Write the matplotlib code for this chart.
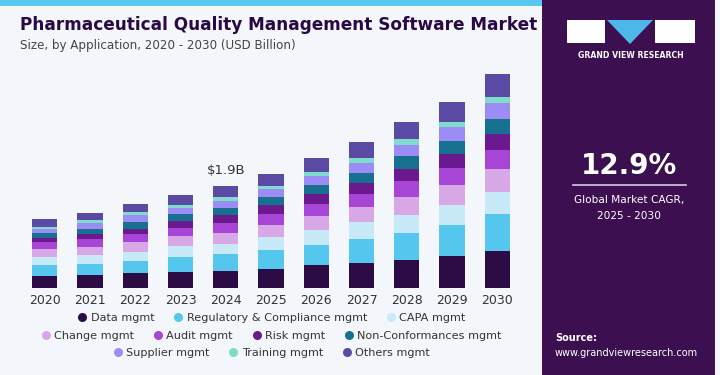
import matplotlib
matplotlib.use("Agg")
import matplotlib.pyplot as plt
from matplotlib.lines import Line2D
from matplotlib.patches import Rectangle, Polygon
from matplotlib.colors import LinearSegmentedColormap
import numpy as np

years = ["2020", "2021", "2022", "2023", "2024", "2025", "2026", "2027", "2028", "2029", "2030"]
segments = ["Data mgmt", "Regulatory & Compliance mgmt", "CAPA mgmt", "Change mgmt", "Audit mgmt",
            "Risk mgmt", "Non-Conformances mgmt", "Supplier mgmt", "Training mgmt", "Others mgmt"]

data_mgmt = [0.22, 0.24, 0.28, 0.30, 0.31, 0.35, 0.42, 0.46, 0.52, 0.59, 0.68]
regulatory = [0.20, 0.20, 0.22, 0.28, 0.31, 0.35, 0.37, 0.44, 0.50, 0.57, 0.68]
capa = [0.15, 0.17, 0.17, 0.20, 0.20, 0.24, 0.28, 0.31, 0.33, 0.37, 0.42]
change = [0.15, 0.15, 0.17, 0.18, 0.20, 0.22, 0.26, 0.28, 0.33, 0.37, 0.41]
audit = [0.13, 0.15, 0.15, 0.15, 0.18, 0.20, 0.22, 0.24, 0.30, 0.31, 0.35]
risk = [0.07, 0.09, 0.09, 0.13, 0.15, 0.17, 0.18, 0.20, 0.22, 0.26, 0.30]
non_conf = [0.09, 0.09, 0.13, 0.13, 0.13, 0.15, 0.17, 0.20, 0.24, 0.24, 0.28]
supplier = [0.07, 0.11, 0.13, 0.11, 0.13, 0.15, 0.17, 0.18, 0.20, 0.26, 0.30]
training = [0.04, 0.06, 0.06, 0.06, 0.06, 0.06, 0.07, 0.09, 0.11, 0.09, 0.11]
others = [0.15, 0.13, 0.15, 0.17, 0.22, 0.22, 0.26, 0.30, 0.31, 0.37, 0.41]

series = [data_mgmt, regulatory, capa, change, audit, risk, non_conf, supplier, training, others]
colors = ["#2d0b45", "#55c6ee", "#c8e9f7", "#d8a8e6", "#a746d6",
          "#6a1a8e", "#17708f", "#9b8df5", "#7fdccb", "#5a4aa3"]

annot_year = "2024"
annot_text = "$1.9B"
cagr_text = "12.9%"

W, H = 720, 375
fig = plt.figure(figsize=(7.2, 3.75), dpi=100)
bg = "#f3f7fb"
fig.patch.set_facecolor(bg)

def fx(px):
    return px / W

def fy(py):
    return 1 - py / H

# top band
fig.patches.append(Rectangle((0, fy(6)), fx(542), 6 / H, transform=fig.transFigure,
                             facecolor="#5bc8f2", edgecolor="none", zorder=0))

# main chart axes
ax = fig.add_axes([fx(22), fy(288), fx(498), (288 - 70) / H])
ax.set_facecolor(bg)
x = np.arange(len(years))
bottom = np.zeros(len(years))
for vals, c, name in zip(series, colors, segments):
    ax.bar(x, vals, bottom=bottom, width=0.56, color=c, label=name, edgecolor="none")
    bottom += np.array(vals)
ax.set_xlim(-0.5, len(years) - 0.5)
ax.set_ylim(0, (288 - 70) / 54.2)
for s in ax.spines.values():
    s.set_visible(False)
ax.set_yticks([])
ax.set_xticks(x)
ax.set_xticklabels(years, fontsize=9, color="#333333")
ax.tick_params(axis="x", length=0, pad=4)

i = years.index(annot_year)
ax.annotate(annot_text, (x[i], bottom[i]), xytext=(0, 6), textcoords="offset points",
            ha="center", va="bottom", fontsize=9.5, color="#333333")

# titles
fig.text(fx(20), fy(25), "Pharmaceutical Quality Management Software Market", fontsize=12.2,
         fontweight="heavy", color="#2a0a45", va="center", ha="left")
fig.text(fx(20), fy(46), "Size, by Application, 2020 - 2030 (USD Billion)", fontsize=8.6,
         color="#444444", va="center", ha="left")

# legend rows
rows = [[0, 1, 2], [3, 4, 5, 6], [7, 8, 9]]
row_y = [318, 336, 353]
for r, yy in zip(rows, row_y):
    handles = [Line2D([], [], marker="o", linestyle="none", markersize=6.5,
                      markerfacecolor=colors[k], markeredgecolor="none") for k in r]
    labels = [segments[k] for k in r]
    fig.legend(handles, labels, loc="center", bbox_to_anchor=(fx(271), fy(yy)), ncol=len(r),
               frameon=False, fontsize=8.1, handletextpad=0.25, columnspacing=1.6,
               handlelength=1.0, labelcolor="#333333", borderpad=0)

# right panel
panel_color = "#3b0f50"
fig.patches.append(Rectangle((fx(542), 0), fx(173), 1, transform=fig.transFigure,
                             facecolor=panel_color, edgecolor="none", zorder=0))
grad_ax = fig.add_axes([fx(542), 0, fx(173), 90 / H])
grad = np.linspace(0, 1, 100).reshape(-1, 1)
cmap = LinearSegmentedColormap.from_list("g", ["#4f7dc0", "#5a5fa8", panel_color])
grad_ax.imshow(grad, aspect="auto", cmap=cmap, extent=[0, 1, 0, 1], origin="lower")
grad_ax.axis("off")

# logo
fig.patches.append(Rectangle((fx(567), fy(43)), fx(38), 23 / H, transform=fig.transFigure,
                             facecolor="white", edgecolor="none"))
fig.patches.append(Rectangle((fx(655), fy(43)), fx(40), 23 / H, transform=fig.transFigure,
                             facecolor="white", edgecolor="none"))
fig.patches.append(Polygon([(fx(607), fy(20)), (fx(653), fy(20)), (fx(630), fy(44))],
                           closed=True, transform=fig.transFigure, facecolor="#4fb8ea",
                           edgecolor="none"))
fig.text(fx(631), fy(55), "GRAND VIEW RESEARCH", fontsize=5.6, fontweight="bold",
         color="white", ha="center", va="center")

fig.text(fx(629), fy(166), cagr_text, fontsize=20, fontweight="bold", color="white",
         ha="center", va="center")
fig.lines.append(Line2D([fx(573), fx(686)], [fy(185), fy(185)], transform=fig.transFigure,
                        color="#d9c8e8", linewidth=1.2))
fig.text(fx(629), fy(200), "Global Market CAGR,", fontsize=7.6, color="white",
         ha="center", va="center")
fig.text(fx(629), fy(216), "2025 - 2030", fontsize=7.6, color="white",
         ha="center", va="center")
fig.text(fx(555), fy(338), "Source:", fontsize=7, fontweight="bold", color="white",
         ha="left", va="center")
fig.text(fx(555), fy(353), "www.grandviewresearch.com", fontsize=7, color="white",
         ha="left", va="center")

fig.savefig("out.png", dpi=100, facecolor=fig.get_facecolor())
